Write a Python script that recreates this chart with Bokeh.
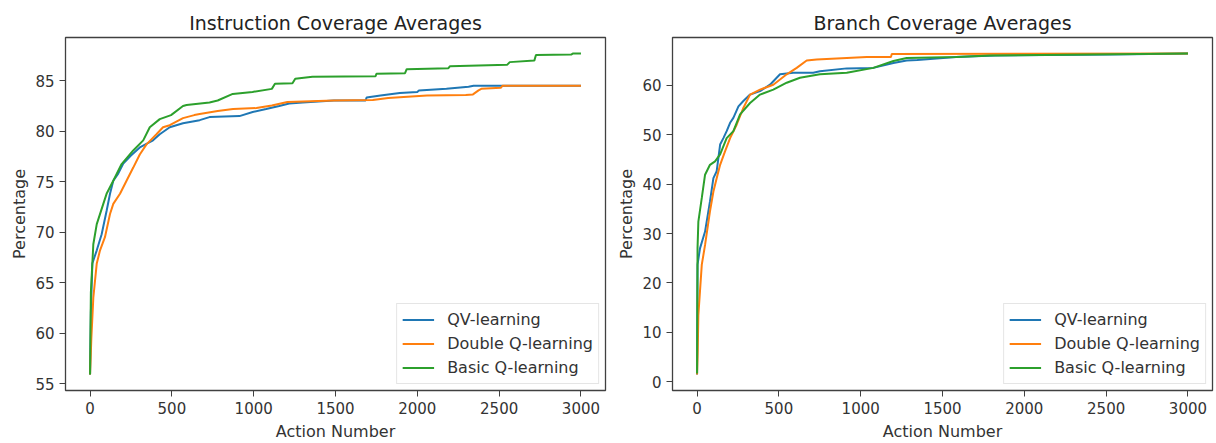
from bokeh.plotting import figure
from bokeh.layouts import row
from bokeh.models import Range1d, FixedTicker, Legend, LegendItem
from bokeh.embed import file_html
from bokeh.resources import INLINE

# ---------------- data ----------------
series_names = ["QV-learning", "Double Q-learning", "Basic Q-learning"]
series_colors = ["#1f77b4", "#ff7f0e", "#2ca02c"]
x_ticks = [0, 500, 1000, 1500, 2000, 2500, 3000]
ins_y_ticks = [55, 60, 65, 70, 75, 80, 85]
br_y_ticks = [0, 10, 20, 30, 40, 50, 60]

# Instruction coverage
ins_qv_x = [0, 5, 14, 41, 71, 101, 122, 142, 172, 203, 250, 304, 385, 426, 487, 568, 670, 730, 913, 994,
            1076, 1156, 1217, 1300, 1490, 1684, 1690, 1775, 1822, 1893, 2000, 2010, 2178, 2313, 2344, 2510, 3000]
ins_qv_y = [55.9, 62.0, 66.9, 68.2, 69.8, 72.1, 73.8, 75.1, 75.8, 76.8, 77.6, 78.4, 79.1, 79.7, 80.4, 80.8, 81.1, 81.4, 81.5, 81.9,
            82.2, 82.5, 82.75, 82.85, 83.05, 83.05, 83.35, 83.55, 83.65, 83.8, 83.9, 84.05, 84.2, 84.4, 84.5, 84.5, 84.5]

ins_dq_x = [0, 8, 20, 41, 61, 91, 122, 142, 183, 223, 264, 304, 345, 406, 446, 487, 568, 637, 670, 780,
            874, 1017, 1111, 1206, 1490, 1728, 1822, 1964, 2059, 2296, 2340, 2374, 2391, 2510, 2520, 3000]
ins_dq_y = [55.9, 59.5, 63.5, 66.9, 68.2, 69.5, 71.8, 72.8, 73.8, 75.1, 76.4, 77.7, 78.7, 79.7, 80.4, 80.6, 81.3, 81.6, 81.7, 82.0,
            82.2, 82.3, 82.55, 82.9, 83.05, 83.1, 83.3, 83.45, 83.55, 83.6, 83.65, 84.05, 84.2, 84.3, 84.5, 84.5]

ins_bq_x = [0, 5, 20, 41, 81, 101, 142, 193, 264, 325, 365, 426, 495, 568, 590, 730, 780, 872, 993, 1111,
            1130, 1237, 1254, 1359, 1745, 1750, 1925, 1935, 2190, 2200, 2550, 2565, 2715, 2725, 2940, 2950, 3000]
ins_bq_y = [55.9, 64.0, 68.8, 70.8, 72.8, 73.8, 75.1, 76.75, 78.1, 79.1, 80.4, 81.2, 81.6, 82.5, 82.6, 82.85, 83.05, 83.7, 83.9, 84.2,
            84.7, 84.75, 85.2, 85.4, 85.45, 85.7, 85.75, 86.15, 86.25, 86.45, 86.6, 86.85, 87.0, 87.55, 87.6, 87.7, 87.7]

# Branch coverage
br_qv_x = [0, 3, 18, 49, 79, 100, 120, 141, 161, 181, 202, 222, 253, 283, 324, 385, 446, 507, 588, 710,
           751, 915, 1077, 1200, 1281, 1346, 1583, 1821, 2533, 3000]
br_qv_y = [1.5, 23.7, 27.0, 30.4, 36.5, 41.2, 42.6, 48.0, 49.3, 50.7, 52.4, 53.4, 55.7, 56.8, 58.1, 58.8, 60.1, 62.2, 62.5, 62.5,
           62.8, 63.4, 63.5, 64.5, 65.0, 65.1, 65.7, 66.0, 66.2, 66.4]

br_dq_x = [0, 4, 8, 29, 49, 79, 100, 120, 141, 171, 202, 242, 283, 324, 385, 466, 548, 609, 670, 731,
           915, 1037, 1185, 1190, 2000, 3000]
br_dq_y = [1.5, 6.0, 13.5, 23.7, 27.7, 34.5, 38.5, 41.2, 43.9, 46.6, 49.3, 52.0, 55.4, 58.1, 59.1, 60.1, 62.2, 63.5, 65.0, 65.2,
           65.5, 65.7, 65.7, 66.3, 66.35, 66.4]

br_bq_x = [0, 3, 8, 29, 49, 79, 110, 141, 181, 222, 263, 324, 385, 466, 548, 629, 751, 915, 1077, 1200,
           1281, 1583, 1790, 3000]
br_bq_y = [1.7, 27.0, 32.4, 37.2, 41.9, 43.9, 44.6, 46.0, 49.3, 50.7, 54.1, 56.4, 58.1, 59.1, 60.5, 61.5, 62.2, 62.5, 63.5, 64.9,
           65.5, 65.7, 66.0, 66.4]

FONT = "DejaVu Sans"


def padded(vals, frac=0.05):
    lo, hi = min(vals), max(vals)
    pad = (hi - lo) * frac
    return lo - pad, hi + pad


def make_panel(title, xs_list, ys_list, yticks, width, border_left, border_right):
    all_x = [v for xs in xs_list for v in xs]
    all_y = [v for ys in ys_list for v in ys]
    x0, x1 = padded(all_x)
    y0, y1 = padded(all_y)
    p = figure(width=width, height=443, output_backend="svg", toolbar_location=None,
               x_range=Range1d(x0, x1), y_range=Range1d(y0, y1),
               min_border_left=border_left, min_border_right=border_right,
               min_border_top=37, min_border_bottom=52)
    p.title.text = title
    p.title.align = "center"
    p.title.text_font = FONT
    p.title.text_font_size = "19px"
    p.title.text_font_style = "normal"
    p.title.text_color = "#222222"
    p.title.standoff = 7

    p.xgrid.visible = False
    p.ygrid.visible = False
    p.outline_line_color = "#404040"
    p.outline_line_width = 1.3
    p.background_fill_color = "white"
    p.border_fill_color = "white"

    p.xaxis.ticker = FixedTicker(ticks=x_ticks)
    p.yaxis.ticker = FixedTicker(ticks=yticks)
    p.xaxis.axis_label = "Action Number"
    p.yaxis.axis_label = "Percentage"
    for ax in (p.xaxis[0], p.yaxis[0]):
        ax.axis_line_color = None
        ax.major_tick_out = 6
        ax.major_tick_in = 0
        ax.minor_tick_out = 0
        ax.minor_tick_in = 0
        ax.major_tick_line_color = "#404040"
        ax.major_label_text_font = FONT
        ax.major_label_text_font_size = "15px"
        ax.major_label_text_color = "#333333"
        ax.major_label_standoff = 5
        ax.axis_label_text_font = FONT
        ax.axis_label_text_font_size = "16px"
        ax.axis_label_text_font_style = "normal"
        ax.axis_label_text_color = "#333333"
    p.xaxis.axis_label_standoff = 5
    p.yaxis.axis_label_standoff = 3

    items = []
    for name, color, xs, ys in zip(series_names, series_colors, xs_list, ys_list):
        r = p.line(xs, ys, line_color=color, line_width=2)
        items.append(LegendItem(label=name, renderers=[r]))
    legend = Legend(items=items, location="bottom_right",
                    label_text_font=FONT, label_text_font_size="16px", label_text_color="#333333",
                    label_height=21, glyph_height=21, glyph_width=32, label_standoff=13,
                    padding=5, spacing=3, margin=6,
                    border_line_color="#cccccc", border_line_width=1,
                    background_fill_color="white", background_fill_alpha=0.8)
    p.add_layout(legend)
    return p


p1 = make_panel("Instruction Coverage Averages",
                [ins_qv_x, ins_dq_x, ins_bq_x], [ins_qv_y, ins_dq_y, ins_bq_y],
                ins_y_ticks, 608, 65, 3)
p2 = make_panel("Branch Coverage Averages",
                [br_qv_x, br_dq_x, br_bq_x], [br_qv_y, br_dq_y, br_bq_y],
                br_y_ticks, 608, 64, 4)

layout = row(p1, p2)
open("out.html", "w").write(file_html(layout, INLINE))
